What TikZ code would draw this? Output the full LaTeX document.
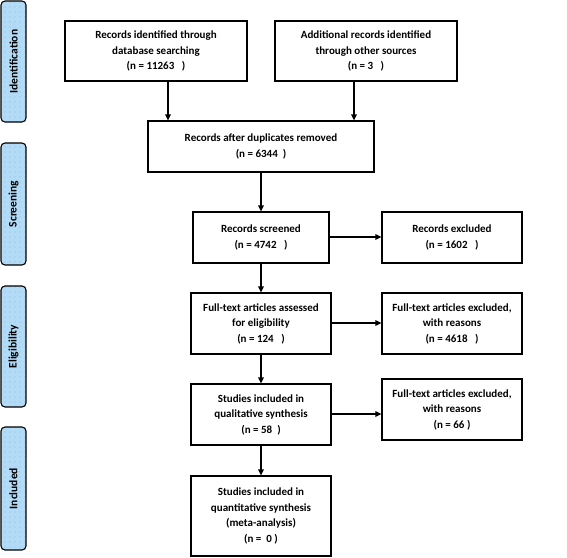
\documentclass[tikz,border=0pt]{standalone}
\usepackage{fontspec}
\setmainfont{Carlito}
\usepackage{tikz}
\usetikzlibrary{arrows.meta}
\usetikzlibrary{patterns.meta}
\definecolor{stageblue}{HTML}{B2DBF7}

\begin{document}
\begin{tikzpicture}[x=1pt, y=-1pt,
		flowbox/.style={draw, line width=1.2pt, align=center, inner sep=2pt, font=\fontsize{11}{15.5}\selectfont\bfseries},
		stagebox/.style={draw, line width=1.1pt, rounded corners=4pt, preaction={fill=stageblue}, pattern={Dots[distance=5pt, radius=0.4pt]}, pattern color=black!55, minimum width=25pt, inner sep=0pt},
		flowarrow/.style={-{Triangle[length=6pt, width=5.5pt]}, line width=1.7pt}]
		\useasboundingbox (0, 0) rectangle (567, 557);
		% stage labels
		\node[stagebox, minimum height=121pt] (idlab) at (13.5, 61.5) {};
		\node[stagebox, minimum height=122pt] (scrlab) at (13.5, 204) {};
		\node[stagebox, minimum height=121pt] (eliglab) at (13.5, 346.5) {};
		\node[stagebox, minimum height=123pt] (incllab) at (13.5, 488.5) {};
		\foreach \lab/\txt in {idlab/Identification, scrlab/Screening, eliglab/Eligibility, incllab/Included}
			\node[rotate=90, font=\fontsize{11.5}{13}\selectfont\bfseries] at (\lab) {\txt};
		% boxes
		\node[flowbox, minimum width=182pt, minimum height=60pt] (ident1) at (156, 51) {Records identified through\\database searching\\(n = 11263~~~)};
		\node[flowbox, minimum width=182pt, minimum height=60pt] (ident2) at (366, 51) {Additional records identified\\through other sources\\(n = 3~~~)};
		\node[flowbox, minimum width=226pt, minimum height=51pt] (dedup) at (261, 146.5) {Records after duplicates removed\\(n = 6344~~)};
		\node[flowbox, minimum width=136pt, minimum height=51pt] (screen) at (261, 237.5) {Records screened\\(n = 4742~~~)};
		\node[flowbox, minimum width=140pt, minimum height=51pt] (excl1) at (452, 237.5) {Records excluded\\(n = 1602~~~)};
		\node[flowbox, minimum width=140pt, minimum height=61pt] (fulltext) at (261, 323.5) {Full-text articles assessed\\for eligibility\\(n = 124~~~)};
		\node[flowbox, minimum width=140pt, minimum height=61pt] (excl2) at (452, 323.5) {Full-text articles excluded,\\with reasons\\(n = 4618~~~)};
		\node[flowbox, minimum width=140pt, minimum height=61pt] (qual) at (261, 414.5) {Studies included in\\qualitative synthesis\\(n = 58~~)};
		\node[flowbox, minimum width=140pt, minimum height=61pt] (excl3) at (452, 409.5) {Full-text articles excluded,\\with reasons\\(n = 66 )};
		\node[flowbox, minimum width=140pt, minimum height=80pt] (quant) at (261, 516) {Studies included in\\quantitative synthesis\\(meta-analysis)\\(n = ~0 )};
		% arrows
		\draw[flowarrow] ([xshift=12pt]ident1.south) to ([xshift=12pt]ident1.south |- dedup.north);
		\draw[flowarrow] ([xshift=-12pt]ident2.south) to ([xshift=-12pt]ident2.south |- dedup.north);
		\draw[flowarrow] (dedup) to (screen);
		\draw[flowarrow] (screen) to (fulltext);
		\draw[flowarrow] (fulltext) to (qual);
		\draw[flowarrow] (qual) to (quant);
		\draw[flowarrow] ([yshift=0.5pt]screen.east) to ([yshift=0.5pt]screen.east -| excl1.west);
		\draw[flowarrow] ([yshift=0.5pt]fulltext.east) to ([yshift=0.5pt]fulltext.east -| excl2.west);
		\draw[flowarrow] ([yshift=0.5pt]qual.east) to ([yshift=0.5pt]qual.east -| excl3.west);
	\end{tikzpicture}
\end{document}
